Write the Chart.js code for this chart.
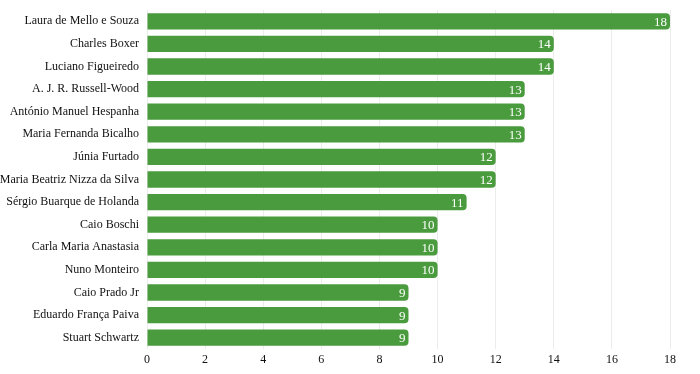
<!DOCTYPE html>
<html>
<head>
<meta charset="utf-8">
<script src="https://cdn.jsdelivr.net/npm/chart.js@4"></script>
<style>
html,body{margin:0;padding:0;background:#fff;}
#wrap{width:700px;height:374px;}
</style>
</head>
<body>
<div id="wrap"><canvas id="c" width="700" height="374"></canvas></div>
<script>
const categories = [
  "Laura de Mello e Souza",
  "Charles Boxer",
  "Luciano Figueiredo",
  "A. J. R. Russell-Wood",
  "António Manuel Hespanha",
  "Maria Fernanda Bicalho",
  "Júnia Furtado",
  "Maria Beatriz Nizza da Silva",
  "Sérgio Buarque de Holanda",
  "Caio Boschi",
  "Carla Maria Anastasia",
  "Nuno Monteiro",
  "Caio Prado Jr",
  "Eduardo França Paiva",
  "Stuart Schwartz"
];
const counts = [18, 14, 14, 13, 13, 13, 12, 12, 11, 10, 10, 10, 9, 9, 9];
const xTicks = [0, 2, 4, 6, 8, 10, 12, 14, 16, 18];

const FONT = "'Liberation Serif', 'Times New Roman', serif";

const valueLabels = {
  id: 'valueLabels',
  afterDatasetsDraw(chart) {
    const ctx = chart.ctx;
    const meta = chart.getDatasetMeta(0);
    ctx.save();
    ctx.font = "13px " + FONT;
    ctx.fillStyle = "#ffffff";
    ctx.textAlign = "right";
    ctx.textBaseline = "middle";
    meta.data.forEach((bar, i) => {
      ctx.fillText(String(counts[i]), bar.x - 3, bar.y + 1);
    });
    ctx.restore();
  }
};

new Chart(document.getElementById('c'), {
  type: 'bar',
  data: {
    labels: categories,
    datasets: [{
      data: counts,
      backgroundColor: '#4a9b3e',
      borderWidth: 0,
      borderRadius: 4,
      borderSkipped: 'start',
      categoryPercentage: 0.8,
      barPercentage: 0.9
    }]
  },
  options: {
    indexAxis: 'y',
    responsive: false,
    animation: false,
    layout: { padding: { left: 0, right: 30, top: 10, bottom: 0 } },
    plugins: { legend: { display: false }, tooltip: { enabled: false } },
    scales: {
      x: {
        min: 0, max: 18,
        afterBuildTicks(scale) { scale.ticks = xTicks.map(v => ({ value: v })); },
        afterFit(scale) { scale.height = 25; scale.paddingLeft = 0; scale.paddingRight = 0; },
        grid: { color: '#ececec', drawTicks: false },
        border: { display: false },
        ticks: { color: '#111', font: { family: FONT, size: 12 }, padding: 4 }
      },
      y: {
        afterFit(scale) { scale.width = 147; scale.paddingTop = 0; scale.paddingBottom = 0; },
        grid: { display: false, drawTicks: false },
        border: { display: false },
        ticks: { color: '#111', font: { family: FONT, size: 12 }, padding: 8 }
      }
    }
  },
  plugins: [valueLabels]
});
</script>
</body>
</html>
